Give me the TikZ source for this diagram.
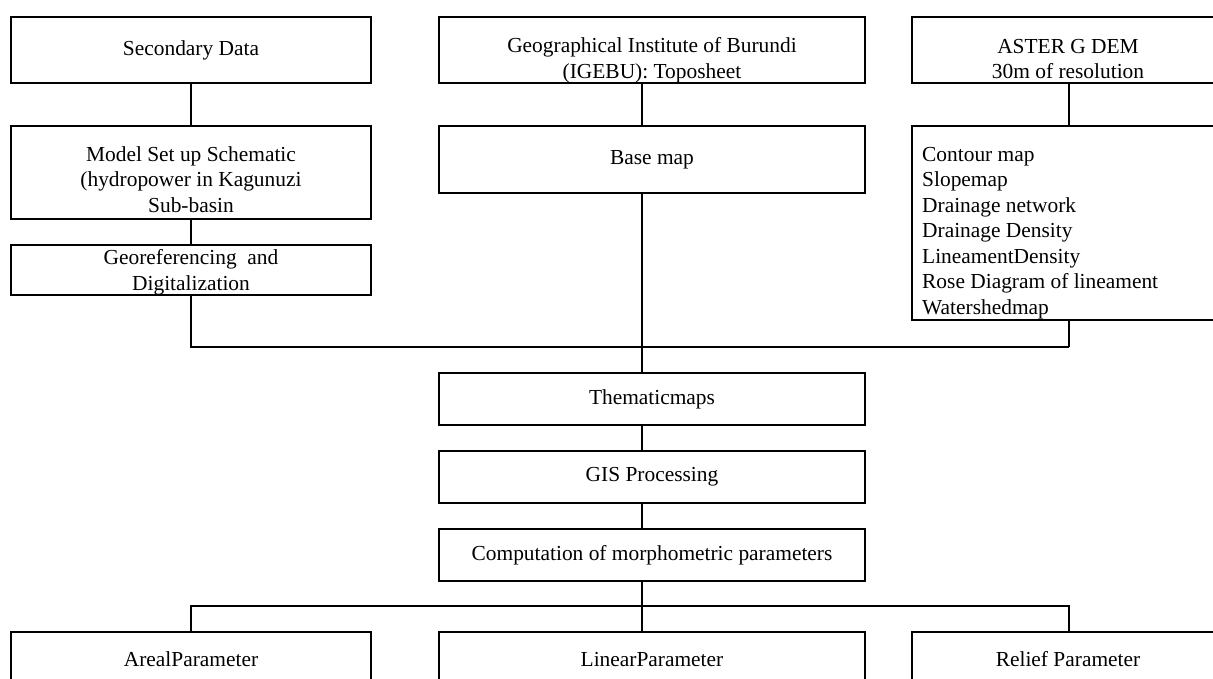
\documentclass[tikz,border=0pt]{standalone}
\usepackage{fontspec}
\setmainfont{Liberation Serif}
\begin{document}
\begin{tikzpicture}[x=1pt,y=-1pt,
  box/.style={draw, line width=2pt, rectangle, inner sep=0pt, align=center,
    font=\fontsize{21.4}{25.5}\selectfont},
  lbl/.style={inner sep=0pt, align=center, font=\fontsize{21.4}{25.5}\selectfont},
  link/.style={line width=2pt}]
\clip (0,0) rectangle (1213,678);
\fill[white] (0,0) rectangle (1213,678);
% top row
\node[box, minimum width=360pt, minimum height=66pt] (sec) at (191,50) {Secondary Data};
\node[box, minimum width=426pt, minimum height=66pt] (geo) at (652,50) {};
\node[lbl] (geot) at (652,60) {Geographical Institute of Burundi\\(IGEBU): Toposheet};
\node[box, minimum width=312pt, minimum height=66pt] (aster) at (1068,50) {};
\node[lbl] (astert) at (1068,59) {ASTER G DEM\\30m of resolution};
% second row
\node[box, minimum width=360pt, minimum height=93pt] (model) at (191,172.5) {};
\node[lbl] (modelt) at (191,179.5) {Model Set up Schematic\\(hydropower in Kagunuzi\\Sub-basin};
\node[box, minimum width=426pt, minimum height=67pt] (base) at (652,159.5) {Base map};
\node[box, minimum width=312pt, minimum height=194pt] (list) at (1068,223) {};
\node[lbl, align=left, anchor=north west] (listt) at (922,147)
  {Contour map\\Slopemap\\Drainage network\\Drainage Density\\LineamentDensity\\Rose Diagram of lineament\\Watershedmap};
\node[box, minimum width=360pt, minimum height=50pt] (georef) at (191,270) {};
\node[lbl] (georeft) at (191,272.5) {Georeferencing~ and\\Digitalization};
% middle chain
\node[box, minimum width=426pt, minimum height=52pt] (them) at (652,399) {Thematicmaps};
\node[box, minimum width=426pt, minimum height=52pt] (gis) at (652,477) {GIS Processing};
\node[box, minimum width=426pt, minimum height=52pt] (comp) at (652,555) {Computation of morphometric parameters};
% bottom row
\node[box, minimum width=360pt, minimum height=80pt] (areal) at (191,672) {};
\node[lbl, anchor=base] (arealt) at (191,666) {ArealParameter};
\node[box, minimum width=426pt, minimum height=80pt] (linear) at (652,672) {};
\node[lbl, anchor=base] (lineart) at (652,666) {LinearParameter};
\node[box, minimum width=312pt, minimum height=80pt] (relief) at (1068,672) {};
\node[lbl, anchor=base] (relieft) at (1068,666) {Relief Parameter};
% junctions
\coordinate (j1) at (642,347);
\coordinate (j2) at (1069,347);
\coordinate (jl) at (191,347);
\coordinate (j3) at (642,606);
% connectors
\draw[link] (sec.south) -- (model.north);
\draw[link] (model.south) -- (georef.north);
\draw[link] (georef.south) -- (jl) -- (j2);
\draw[link] (aster.south -| j2) -- (list.north -| j2);
\draw[link] (list.south -| j2) -- (j2);
\draw[link] (geo.south -| j1) -- (base.north -| j1);
\draw[link] (base.south -| j1) -- (them.north -| j1);
\draw[link] (them.south -| j1) -- (gis.north -| j1);
\draw[link] (gis.south -| j1) -- (comp.north -| j1);
\draw[link] (comp.south -| j1) -- (linear.north -| j1);
\draw[link] (areal.north) |- (j3) -| (relief.north -| j2);
\end{tikzpicture}
\end{document}
